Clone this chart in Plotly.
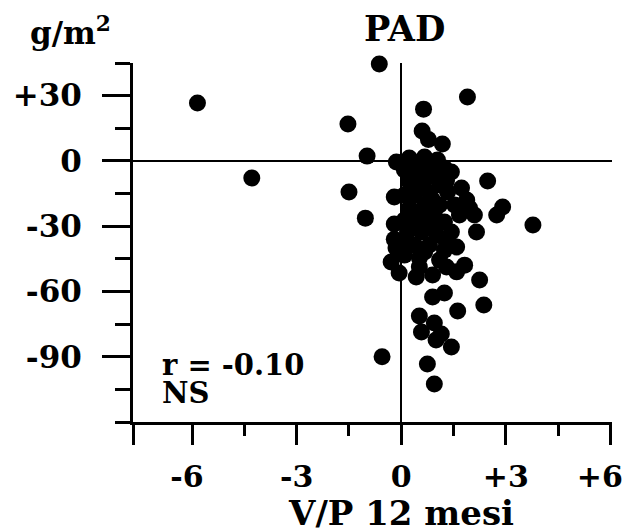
import plotly.graph_objects as go

# V/P change at 12 months (x) vs LV mass change g/m2 (y)
vp_change = [
    -5.85, -4.29, -0.63, 1.90, 0.64, -1.53, 0.60, 0.78, 1.18, -0.98, -0.14,
    -1.50, 2.48, -0.20, -1.03, -0.20, 3.78, 2.91, 2.74, 2.16, 2.10, 1.59,
    -0.29, -0.06, 0.43, 0.52, 0.90, 1.59, 1.82, 1.30, 2.25, 0.90, 1.24,
    2.37, 1.62, 0.52, 0.95, 0.58, 1.15, 1.00, 1.44, -0.55, 0.75, 0.95,
    0.23, 0.67, 1.04, 0.29, 0.75, 1.24, 1.44, 0.23, 0.67, 1.10,
    0.38, 0.81, 1.33, 1.73, 0.23, 0.67, 1.10, 1.88, 1.53,
    0.29, 0.75, 1.24, 1.67, 0.18, 0.58, 1.01, 1.44,
    0.38, 0.81, 1.24, 0.09, 0.52, 1.10, -0.20, -0.15,
    0.46, 0.90, 0.46, 0.90, 0.46, 0.95, 0.46, 0.87, 1.27, 0.67, 1.96,
    0.09, 0.09, 0.09, 0.09, 1.05, 1.30, 0.60,
]
mass_change = [
    26.6, -7.9, 44.5, 29.4, 23.8, 17.0, 13.7, 9.8, 7.8, 2.2, -0.5,
    -14.3, -9.2, -16.6, -26.3, -29.0, -29.5, -21.2, -24.9, -32.7, -24.9, -39.6,
    -46.5, -51.5, -53.4, -48.8, -52.4, -51.0, -47.9, -48.8, -54.7, -62.6, -60.7,
    -66.2, -69.0, -71.3, -74.5, -78.6, -79.6, -82.3, -85.5, -90.0, -93.3, -102.5,
    1.3, 1.8, 0.4, -4.2, -3.3, -3.3, -5.1, -9.7, -8.8, -11.1,
    -15.7, -14.8, -14.3, -12.5, -21.7, -20.3, -20.3, -18.0, -20.3,
    -27.2, -26.2, -28.1, -24.9, -32.7, -32.7, -34.1, -32.7,
    -38.7, -38.7, -41.0, -43.3, -44.6, -45.6, -36.0, -40.0,
    -1.0, -6.5, -12.5, -18.0, -23.5, -23.5, -29.5, -29.9, -36.4, -41.9, -21.7,
    -4.2, -15.7, -27.2, -36.4, -7.0, -9.0, -5.5,
]

x_tick_vals = [-7.7, -6, -3, 0, 3, 6]
x_tick_text = ["", "-6&nbsp;", "-3", "0", "+3", "+6&nbsp;&nbsp;"]
x_minor_vals = [-4.5, -1.5, 1.5, 4.5]
y_tick_vals = [-90, -60, -30, 0, 30]
y_tick_text = ["-90", "-60", "-30", "0", "+30"]
y_minor_vals = [-120, -105, -75, -45, -15, 15, 45]

FONT = "DejaVu Serif"

fig = go.Figure()
fig.add_trace(go.Scatter(
    x=vp_change, y=mass_change, mode="markers",
    marker=dict(color="black", size=17, line=dict(width=0)),
    cliponaxis=False, showlegend=False,
))

fig.update_layout(
    width=626, height=531,
    margin=dict(l=133, r=14, t=63, b=109),
    paper_bgcolor="white", plot_bgcolor="white",
    font=dict(family=FONT, size=30, color="black"),
    xaxis=dict(
        range=[-7.7, 6.05], showgrid=False, automargin=False,
        zeroline=True, zerolinecolor="black", zerolinewidth=2,
        showline=True, linecolor="black", linewidth=3,
        tickmode="array", tickvals=x_tick_vals, ticktext=x_tick_text,
        ticks="outside", ticklen=20, tickwidth=3, tickcolor="black",
        ticklabelstandoff=6, ticklabeloverflow="allow",
        minor=dict(tickmode="array", tickvals=x_minor_vals, ticks="outside",
                   ticklen=11, tickwidth=3, tickcolor="black"),
        tickfont=dict(family=FONT, size=30, weight="bold"),
    ),
    yaxis=dict(
        range=[-120, 45], showgrid=False, automargin=False,
        zeroline=True, zerolinecolor="black", zerolinewidth=2,
        showline=True, linecolor="black", linewidth=3,
        tickmode="array", tickvals=y_tick_vals, ticktext=y_tick_text,
        ticks="outside", ticklen=28, tickwidth=3, tickcolor="black",
        ticklabelstandoff=14, ticklabeloverflow="allow",
        minor=dict(tickmode="array", tickvals=y_minor_vals, ticks="outside",
                   ticklen=15, tickwidth=3, tickcolor="black"),
        tickfont=dict(family=FONT, size=31, weight="bold"),
    ),
    annotations=[
        dict(text="<b>g/m<sup>2</sup></b>", xref="paper", yref="paper", x=-0.219, y=1.09,
             xanchor="left", yanchor="middle", showarrow=False,
             font=dict(family=FONT, size=31)),
        dict(text="<b>PAD</b>", xref="paper", yref="paper", x=0.566, y=1.097,
             xanchor="center", yanchor="middle", showarrow=False,
             font=dict(family=FONT, size=35)),
        dict(text="<b>r = -0.10</b>", xref="paper", yref="paper", x=0.056, y=0.158,
             xanchor="left", yanchor="middle", showarrow=False,
             font=dict(family=FONT, size=29)),
        dict(text="<b>NS</b>", xref="paper", yref="paper", x=0.056, y=0.082,
             xanchor="left", yanchor="middle", showarrow=False,
             font=dict(family=FONT, size=29)),
        dict(text="<b>V/P 12 mesi</b>", xref="paper", yref="paper", x=0.56, y=-0.253,
             xanchor="center", yanchor="middle", showarrow=False,
             font=dict(family=FONT, size=34)),
    ],
)

fig.write_html(
    "out.html",
    config={"displayModeBar": False},
    post_script="document.body.style.margin='0';document.body.style.overflow='hidden';",
)
